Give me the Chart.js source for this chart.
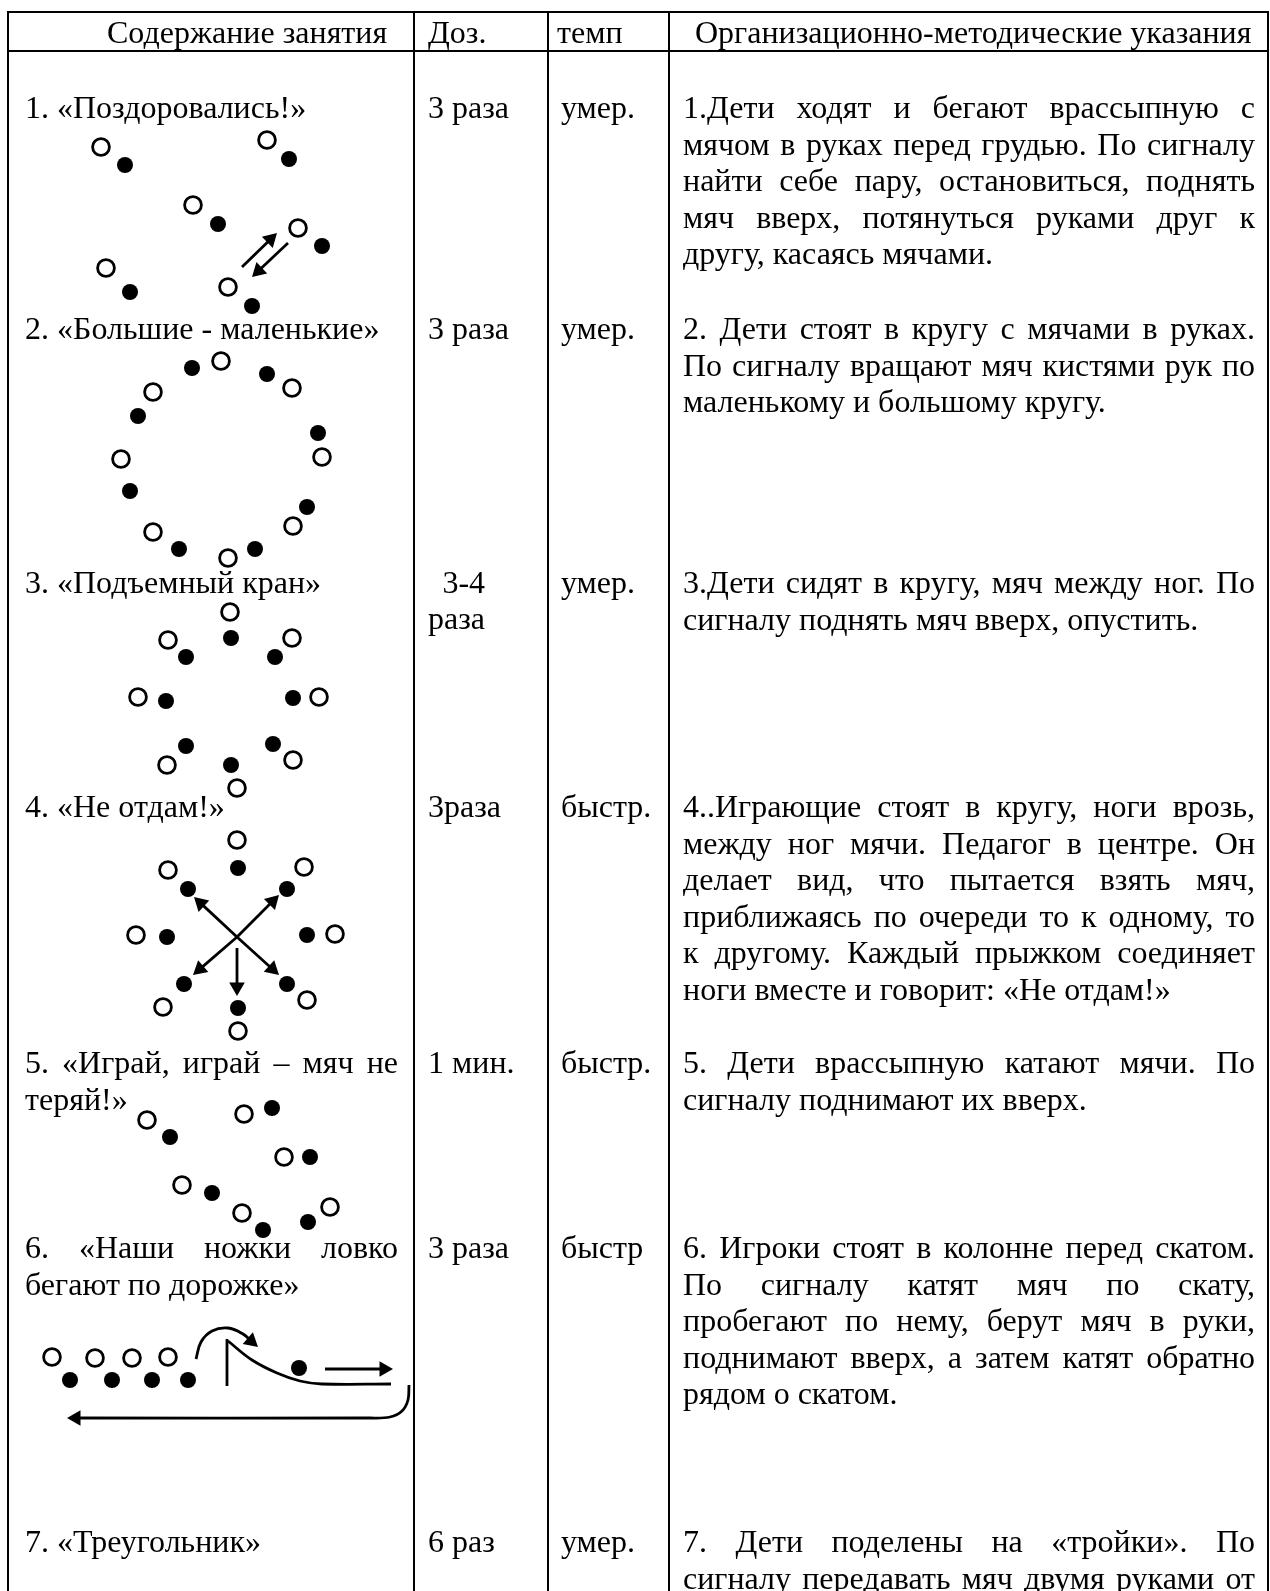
<!DOCTYPE html>
<html lang="ru">
<head>
<meta charset="utf-8">
<title>Содержание занятия</title>
<script src="https://cdn.jsdelivr.net/npm/chart.js@4.4.1/dist/chart.umd.min.js"></script>
<style>
  html, body { margin: 0; padding: 0; background: #fff; }
  #wrap { position: relative; width: 1270px; height: 1591px; overflow: hidden; }
  #sheet { position: absolute; left: 0; top: 0; }
  #labels { position: absolute; left: 0; top: 0; width: 1270px; height: 1591px; pointer-events: none; }
  .lbl {
    position: absolute;
    white-space: pre;
    font-family: "Liberation Serif", "Times New Roman", serif;
    font-size: 32px;
    line-height: 36.6px;
    color: #000;
  }
  .just { white-space: normal; text-align: justify; text-align-last: justify; }
  .dose { text-align: right; }
</style>
</head>
<body>
<div id="wrap">
  <canvas id="sheet" width="1270" height="1591"></canvas>
  <div id="labels"></div>
</div>
<script>
const PAGE_W = 1270;
const PAGE_H = 1591;

// table rules
const columnX = [8, 414, 548, 669, 1268];
const ruleY = [12, 51];

// header
const headers = ["Содержание занятия", "Доз.", "темп", "Организационно-методические указания"];
const headerX = [107, 428, 557, 695];
const headerBaseline = 43;

// rows
const rowBaselines = [118, 339, 593, 817, 1073, 1258, 1552];

const exercises = [
  ["1. «Поздоровались!»"],
  ["2. «Большие - маленькие»"],
  ["3. «Подъемный кран»"],
  ["4. «Не отдам!»"],
  ["5. «Играй, играй – мяч не", "теряй!»"],
  ["6. «Наши ножки ловко", "бегают по дорожке»"],
  ["7. «Треугольник»"],
];

const doses = [["3 раза"], ["3 раза"], ["3-4", "раза"], ["3раза"], ["1 мин."], ["3 раза"], ["6 раз"]];

const tempos = ["умер.", "умер.", "умер.", "быстр.", "быстр.", "быстр", "умер."];

const notes = [
  [
    "1.Дети ходят и бегают врассыпную с",
    "мячом в руках перед грудью. По сигналу",
    "найти себе пару, остановиться, поднять",
    "мяч вверх, потянуться руками друг к",
    "другу, касаясь мячами.",
  ],
  [
    "2. Дети стоят в кругу с мячами в руках.",
    "По сигналу вращают мяч кистями рук по",
    "маленькому и большому кругу.",
  ],
  [
    "3.Дети сидят в кругу, мяч между ног. По",
    "сигналу поднять мяч вверх, опустить.",
  ],
  [
    "4..Играющие стоят в кругу, ноги врозь,",
    "между ног мячи. Педагог в центре. Он",
    "делает вид, что пытается взять мяч,",
    "приближаясь по очереди то к одному, то",
    "к другому. Каждый прыжком соединяет",
    "ноги вместе и говорит: «Не отдам!»",
  ],
  [
    "5. Дети  врассыпную катают мячи. По",
    "сигналу поднимают их вверх.",
  ],
  [
    "6. Игроки стоят в колонне перед скатом.",
    "По сигналу катят мяч по скату,",
    "пробегают по нему, берут мяч в руки,",
    "поднимают вверх, а затем катят обратно",
    "рядом о скатом.",
  ],
  [
    "7. Дети поделены на «тройки». По",
    "сигналу передавать мяч двумя руками от",
  ],
];
// last paragraph runs past the page edge, so its last visible line stays justified
const notesOpenEnded = [false, false, false, false, false, false, true];

// players (open) and balls (filled), page coordinates
const players = [
  [101, 147], [267, 140], [193, 205], [298, 228], [106, 268], [228, 287],
  [221, 361], [153, 392], [292, 388], [121, 459], [322, 457], [153, 532], [293, 526], [228, 558],
  [230, 612], [168, 640], [292, 638], [138, 697], [319, 697], [167, 765], [293, 760], [237, 788],
  [237, 840], [168, 870], [304, 867], [136, 935], [335, 934], [163, 1007], [307, 1000], [238, 1031],
  [147, 1120], [244, 1114], [284, 1157], [182, 1185], [242, 1213], [330, 1207],
  [52, 1357], [95, 1358], [132, 1358], [168, 1357],
];

const balls = [
  [125, 165], [289, 159], [218, 224], [322, 246], [130, 292], [252, 306],
  [192, 368], [267, 374], [138, 416], [318, 433], [130, 491], [307, 507], [179, 549], [255, 549],
  [231, 638], [186, 657], [275, 657], [166, 701], [293, 698], [186, 746], [273, 744], [231, 765],
  [238, 868], [188, 889], [287, 889], [167, 937], [307, 935], [184, 984], [287, 984], [238, 1008],
  [170, 1137], [272, 1108], [310, 1157], [212, 1193], [263, 1230], [308, 1222],
  [70, 1380], [112, 1380], [152, 1380], [188, 1380], [299, 1368],
];

// straight arrows: head at the last point
const arrows = [
  [[242, 267], [277, 233]],
  [[288, 243], [252, 277]],
  [[237, 937], [194, 897]],
  [[237, 937], [279, 895]],
  [[237, 937], [193, 975]],
  [[237, 937], [279, 975]],
  [[237, 948], [237, 996]],
  [[325, 1369], [393, 1369]],
];

// curved paths for the slope game
const slopeHop = [[196, 1359], [201, 1342], [212, 1331], [228, 1328], [243, 1334], [258, 1347]];
const slopePost = [[227, 1339], [227, 1386]];
const slopeRamp = [[228, 1341], [252, 1360], [277, 1373], [300, 1381], [322, 1384], [391, 1384]];
const slopeReturn = [[409, 1385], [408, 1400], [402, 1411], [390, 1417], [370, 1418], [67, 1418]];

const INK = "#000";
const HEAD_R = 9;

const toPts = (arr) => arr.map(([x, y]) => ({ x, y }));

function lineSet(points, width, tension = 0) {
  return {
    type: "scatter",
    data: toPts(points),
    showLine: true,
    borderColor: INK,
    borderWidth: width,
    tension,
    pointRadius: 0,
    borderCapStyle: "butt",
  };
}

// trims the line to the head centre and returns the head as a rotated triangle
function arrowSets(points, tension = 0) {
  const n = points.length;
  const [tx, ty] = points[n - 1];
  const [px, py] = points[n - 2];
  const len = Math.hypot(tx - px, ty - py);
  const ux = (tx - px) / len;
  const uy = (ty - py) / len;
  const cx = tx - ux * HEAD_R;
  const cy = ty - uy * HEAD_R;
  const body = points.slice(0, n - 1).concat([[cx, cy]]);
  const rot = (Math.atan2(ux, -uy) * 180) / Math.PI;
  return [
    lineSet(body, 2.8, tension),
    {
      type: "scatter",
      data: [{ x: cx, y: cy }],
      pointStyle: "triangle",
      pointRadius: HEAD_R,
      pointRotation: rot,
      backgroundColor: INK,
      borderWidth: 0,
    },
  ];
}

const datasets = [];

columnX.forEach((x) => datasets.push(lineSet([[x, ruleY[0] - 1], [x, PAGE_H]], 2)));
ruleY.forEach((y) => datasets.push(lineSet([[columnX[0] - 1, y], [columnX[4] + 1, y]], 2)));

arrows.forEach((a) => datasets.push(...arrowSets(a)));
datasets.push(...arrowSets(slopeHop, 0.4));
datasets.push(lineSet(slopePost, 2.8));
datasets.push(lineSet(slopeRamp, 2.8, 0.4));
datasets.push(...arrowSets(slopeReturn, 0.35));

datasets.push({
  type: "scatter",
  label: "players",
  data: toPts(players),
  pointStyle: "circle",
  pointRadius: 8.4,
  borderWidth: 2.8,
  borderColor: INK,
  backgroundColor: "#fff",
});
datasets.push({
  type: "scatter",
  label: "balls",
  data: toPts(balls),
  pointStyle: "circle",
  pointRadius: 8,
  borderWidth: 0,
  backgroundColor: INK,
});

const chart = new Chart(document.getElementById("sheet"), {
  type: "scatter",
  data: { datasets },
  options: {
    responsive: false,
    animation: false,
    devicePixelRatio: 1,
    events: [],
    layout: { padding: 0, autoPadding: false },
    plugins: { legend: { display: false }, tooltip: { enabled: false } },
    scales: {
      x: { type: "linear", min: 0, max: PAGE_W, display: false },
      y: { type: "linear", min: 0, max: PAGE_H, reverse: true, display: false },
    },
  },
});

// text layer, placed through the same scales
const LINE_H = 36.6;
const BASE_OFF = 29.1;

function placeText() {
  const layer = document.getElementById("labels");
  const px = (v) => chart.scales.x.getPixelForValue(v);
  const py = (v) => chart.scales.y.getPixelForValue(v);

  function add(text, x, baseline, opts = {}) {
    const el = document.createElement("div");
    el.className = "lbl" + (opts.justify ? " just" : "") + (opts.cls ? " " + opts.cls : "");
    el.textContent = text;
    el.style.left = px(x) + "px";
    el.style.top = py(baseline) - BASE_OFF + "px";
    if (opts.width) el.style.width = opts.width + "px";
    layer.appendChild(el);
    return el;
  }

  headers.forEach((h, i) => add(h, headerX[i], headerBaseline));

  const c1x = columnX[0] + 17, c1w = 373;
  const c2x = columnX[1] + 14;
  const c3x = columnX[2] + 13;
  const c4x = columnX[3] + 14, c4w = 572;

  rowBaselines.forEach((base, r) => {
    exercises[r].forEach((t, k) => {
      const justify = k < exercises[r].length - 1;
      add(t, c1x, base + k * LINE_H, justify ? { justify, width: c1w } : {});
    });

    const dose = add(doses[r].join("\n"), c2x, base, { cls: "dose" });
    dose.style.display = "inline-block";

    add(tempos[r], c3x, base);

    notes[r].forEach((t, k) => {
      const justify = k < notes[r].length - 1 || notesOpenEnded[r];
      add(t, c4x, base + k * LINE_H, justify ? { justify, width: c4w } : {});
    });
  });
}

placeText();
</script>
</body>
</html>
